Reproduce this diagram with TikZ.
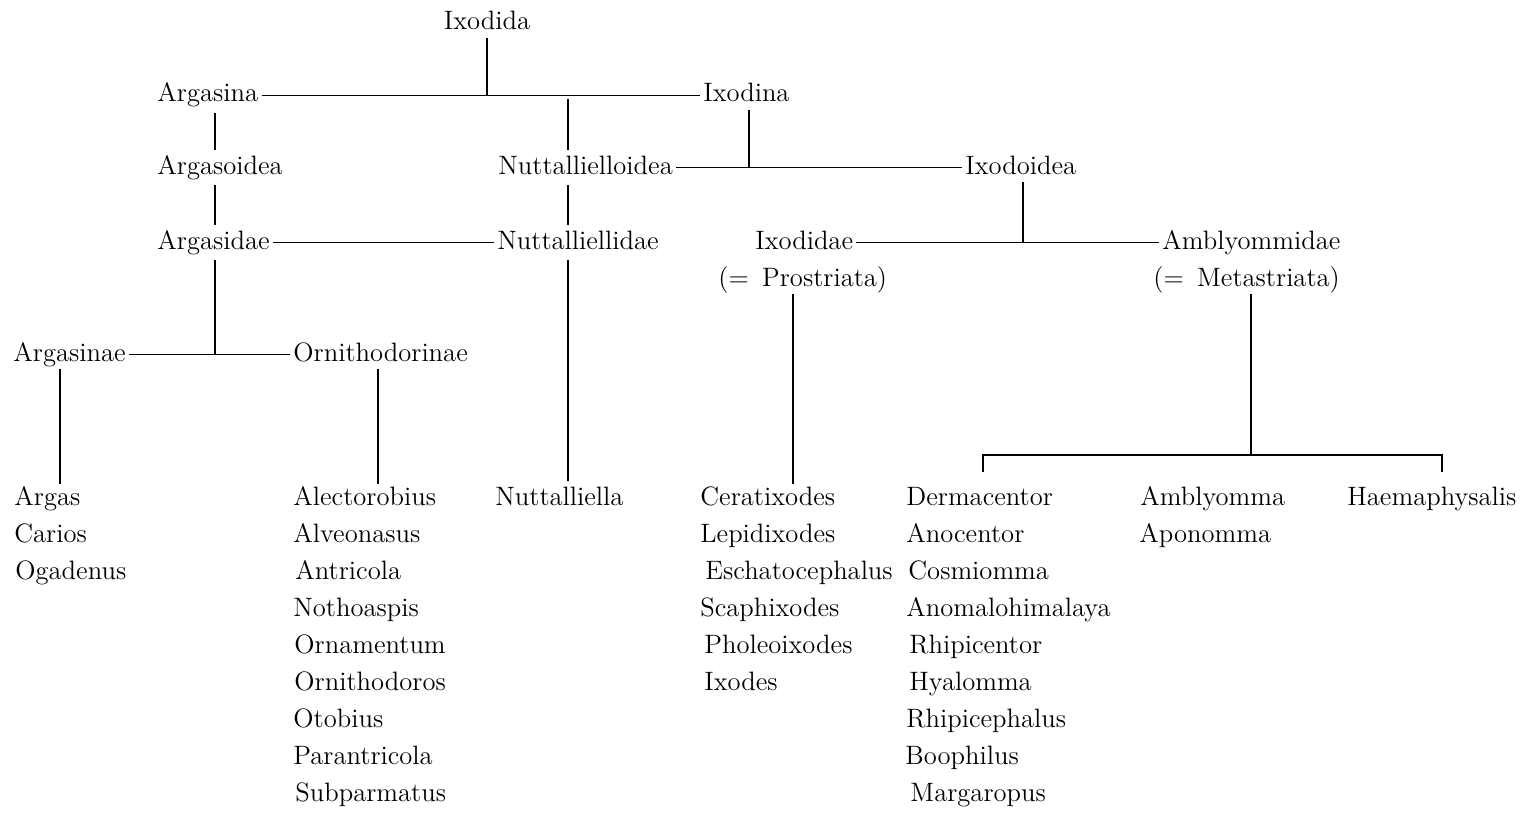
\documentclass[tikz,border=0pt]{standalone}
\usetikzlibrary{calc}
\begin{document}
\begin{tikzpicture}[x=0.5pt,y=-0.5pt,
  tx/.style={font=\fontsize{13.3}{15}\selectfont, inner xsep=1.5pt, inner ysep=1pt,
             text height=9.1pt, text depth=2.7pt, anchor=base west},
  ln/.style={line width=0.7pt},
  gp/.style={shorten <=1.5pt, shorten >=1.5pt}]
\useasboundingbox (0,0) rectangle (1534,813);
% upper levels
\node[tx,anchor=base] (ixodida) at (487,30) {Ixodida};
\node[tx] (argasina) at (154,102) {Argasina};
\node[tx] (ixodina) at (700,102) {Ixodina};
\node[tx] (argasoidea) at (154,174) {Argasoidea};
\node[tx] (nuttallielloidea) at (495,174) {Nuttallielloidea};
\node[tx] (ixodoidea) at (962,174) {Ixodoidea};
\node[tx] (argasidae) at (154,249) {Argasidae};
\node[tx] (nuttalliellidae) at (494,249) {Nuttalliellidae};
\node[tx] (ixodidae) at (752,249) {Ixodidae};
\node[tx] (amblyommidae) at (1159,249) {Amblyommidae};
\node[tx] (prostriata) at (715,286) {(=\enspace Prostriata)};
\node[tx] (metastriata) at (1150,286) {(=\enspace Metastriata)};
\node[tx] (argasinae) at (10,361) {Argasinae};
\node[tx] (ornithodorinae) at (290,361) {Ornithodorinae};
% genera
\node[tx] (argas) at (11,505) {Argas};
\node[tx] (carios) at (11,542) {Carios};
\node[tx] (ogadenus) at (12,579) {Ogadenus};
\node[tx] (alectorobius) at (290,505) {Alectorobius};
\node[tx] (alveonasus) at (290,542) {Alveonasus};
\node[tx] (antricola) at (292,579) {Antricola};
\node[tx] (nothoaspis) at (290,616) {Nothoaspis};
\node[tx] (ornamentum) at (291,653) {Ornamentum};
\node[tx] (ornithodoros) at (291,690) {Ornithodoros};
\node[tx] (otobius) at (290,727) {Otobius};
\node[tx] (parantricola) at (290,764) {Parantricola};
\node[tx] (subparmatus) at (292,801) {Subparmatus};
\node[tx] (nuttalliella) at (492,505) {Nuttalliella};
\node[tx] (ceratixodes) at (697,505) {Ceratixodes};
\node[tx] (lepidixodes) at (697,542) {Lepidixodes};
\node[tx] (eschatocephalus) at (702,579) {Eschatocephalus};
\node[tx] (scaphixodes) at (697,616) {Scaphixodes};
\node[tx] (pholeoixodes) at (701,653) {Pholeoixodes};
\node[tx] (ixodes) at (701,690) {Ixodes};
\node[tx] (dermacentor) at (903,505) {Dermacentor};
\node[tx] (anocentor) at (903,542) {Anocentor};
\node[tx] (cosmiomma) at (905,579) {Cosmiomma};
\node[tx] (anomalohimalaya) at (903,616) {Anomalohimalaya};
\node[tx] (rhipicentor) at (906,653) {Rhipicentor};
\node[tx] (hyalomma) at (906,690) {Hyalomma};
\node[tx] (rhipicephalus) at (903,727) {Rhipicephalus};
\node[tx] (boophilus) at (902,764) {Boophilus};
\node[tx] (margaropus) at (907,801) {Margaropus};
\node[tx] (amblyomma) at (1137,505) {Amblyomma};
\node[tx] (aponomma) at (1136,542) {Aponomma};
\node[tx] (haemaphysalis) at (1344,505) {Haemaphysalis};
% x positions of vertical connectors
\coordinate (vA) at (215,0);
\coordinate (vN) at (568,0);
\coordinate (vI) at (749,0);
\coordinate (vX) at (1023,0);
\coordinate (vP) at (793,0);
\coordinate (vM) at (1251,0);
\coordinate (vG) at (60,0);
\coordinate (vO) at (378,0);
\coordinate (brL) at (983,455);
\coordinate (brR) at (1442,455);
% connectors
\draw[ln] (ixodida.south) -- (ixodida.south |- argasina.east);
\draw[ln] (argasina.east) -- (ixodina.west);
\draw[ln,gp] (vN |- argasina.east) -- (vN |- nuttallielloidea.north);
\draw[ln,gp] (vN |- nuttallielloidea.south) -- (vN |- nuttalliellidae.north);
\draw[ln,gp] (vN |- nuttalliellidae.south) -- (vN |- nuttalliella.north);
\draw[ln] (vI |- ixodina.south) -- (vI |- nuttallielloidea.east);
\draw[ln] (nuttallielloidea.east) -- (ixodoidea.west);
\draw[ln,gp] (vA |- argasina.south) -- (vA |- argasoidea.north);
\draw[ln,gp] (vA |- argasoidea.south) -- (vA |- argasidae.north);
\draw[ln,shorten <=1.5pt] (vA |- argasidae.south) -- (vA |- argasinae.east);
\draw[ln] (argasidae.east) -- (nuttalliellidae.west);
\draw[ln] (vX |- ixodoidea.south) -- (vX |- ixodidae.east);
\draw[ln] (ixodidae.east) -- (amblyommidae.west);
\draw[ln] (vP |- prostriata.south) -- (vP |- ceratixodes.north);
\draw[ln] (vM |- metastriata.south) -- (vM |- brL);
\draw[ln,shorten <=6pt,shorten >=6pt] (brL |- dermacentor.north) -- (brL) -- (brR) -- (brR |- haemaphysalis.north);
\draw[ln] (argasinae.east) -- (ornithodorinae.west);
\draw[ln] (vG |- argasinae.south) -- (vG |- argas.north);
\draw[ln] (vO |- ornithodorinae.south) -- (vO |- alectorobius.north);
\end{tikzpicture}
\end{document}
